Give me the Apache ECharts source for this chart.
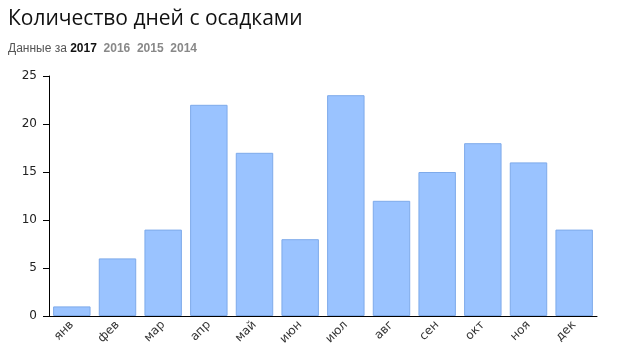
<!DOCTYPE html>
<html><head><meta charset="utf-8">
<script src="https://cdn.jsdelivr.net/npm/echarts@6/dist/echarts.min.js"></script>
<style>html,body{margin:0;padding:0;background:#fff}#c{width:623px;height:352px}</style>
</head><body><div id="c"></div>
<script>
const months = ['янв','фев','мар','апр','май','июн','июл','авг','сен','окт','ноя','дек'];
const rainyDays = [1,6,9,22,17,8,23,12,15,18,16,9];
const yTicks = [0,5,10,15,20,25];
const titleText = 'Количество дней с осадками';
const years = ['2017','2016','2015','2014'];

const chart = echarts.init(document.getElementById('c'));
chart.setOption({
  animation:false,
  title:{
    text:titleText,
    left:3, top:4,
    textStyle:{fontFamily:'Open Sans',fontSize:21,fontWeight:'normal',color:'#111'},
    subtext:'{a|Данные за }{b|'+years[0]+'}{c|  '+years.slice(1).join('  ')+'}',
    itemGap:13,
    subtextStyle:{rich:{
      a:{fontFamily:'Arial, Liberation Sans',fontSize:12,color:'#555'},
      b:{fontFamily:'Arial, Liberation Sans',fontSize:12,fontWeight:'bold',color:'#111'},
      c:{fontFamily:'Arial, Liberation Sans',fontSize:12,fontWeight:'bold',color:'#888'}
    }}
  },
  grid:{left:49,right:26,top:76,bottom:36,containLabel:false},
  xAxis:{
    type:'category',data:months,
    axisLine:{lineStyle:{color:'#000',width:1}},
    axisTick:{alignWithLabel:true,length:5,lineStyle:{color:'#000'}},
    axisLabel:{rotate:45,color:'#333',fontFamily:'Verdana, DejaVu Sans',fontSize:12,margin:7}
  },
  yAxis:{
    type:'value',min:yTicks[0],max:yTicks[yTicks.length-1],interval:5,
    axisLine:{show:true,lineStyle:{color:'#000'}},
    axisTick:{show:true,length:6,lineStyle:{color:'#000'}},
    splitLine:{show:false},
    axisLabel:{color:'#222',fontFamily:'Verdana, DejaVu Sans',fontSize:12,margin:12}
  },
  series:[{
    type:'bar',data:rainyDays,barCategoryGap:'18%',
    itemStyle:{color:'#9ac3ff',borderColor:'#7eaaea',borderWidth:1}
  }]
});
</script></body></html>
